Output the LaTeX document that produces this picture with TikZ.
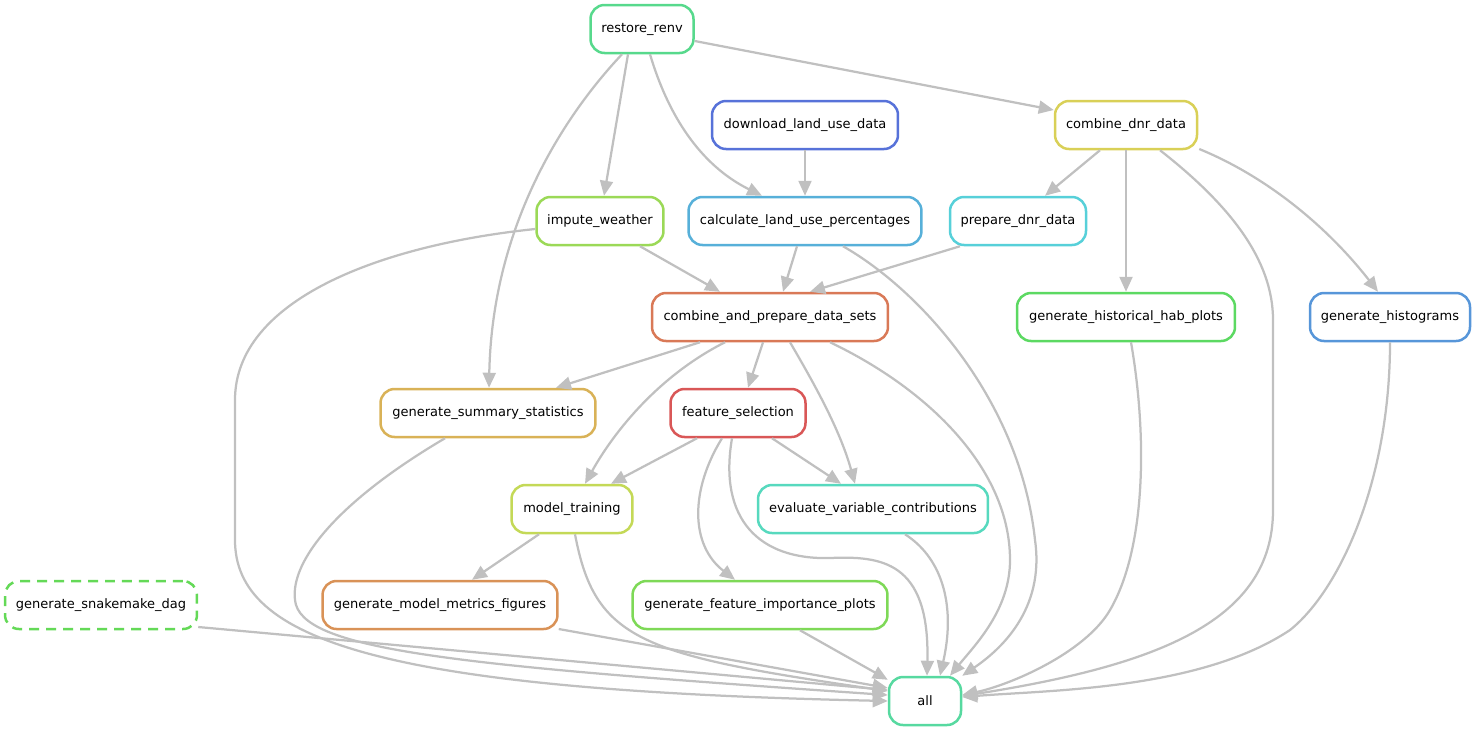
\documentclass[tikz,border=0pt]{standalone}
\usepackage{fontspec}
\setmainfont{DejaVu Sans}
\usetikzlibrary{calc,arrows.meta}
\definecolor{edgegray}{RGB}{192,192,192}
\definecolor{crestore}{RGB}{87,217,140}
\definecolor{cdownload}{RGB}{87,114,217}
\definecolor{ccombdnr}{RGB}{217,208,87}
\definecolor{cimpute}{RGB}{155,217,87}
\definecolor{ccalc}{RGB}{87,176,217}
\definecolor{cprepdnr}{RGB}{87,208,217}
\definecolor{ccombine}{RGB}{217,121,87}
\definecolor{chistorical}{RGB}{92,217,98}
\definecolor{chistograms}{RGB}{87,150,217}
\definecolor{csummary}{RGB}{217,178,87}
\definecolor{cfeature}{RGB}{217,87,87}
\definecolor{ctraining}{RGB}{196,217,87}
\definecolor{cevaluate}{RGB}{87,217,190}
\definecolor{cdag}{RGB}{100,217,87}
\definecolor{cmetrics}{RGB}{217,146,87}
\definecolor{cimportance}{RGB}{126,217,87}
\definecolor{call}{RGB}{87,217,160}
\tikzset{
  rule/.style={draw, rectangle, rounded corners=0.28cm, line width=0.05cm, fill=white,
               minimum height=0.96cm, inner xsep=0pt, font=\fontsize{7.4}{9}\selectfont},
  dep/.style={draw=edgegray, line width=0.045cm, -{Triangle[length=0.3cm,width=0.26cm]}}
}

\begin{document}
\begin{tikzpicture}[x=0.02cm, y=-0.02cm]
  \useasboundingbox (0,0) rectangle (1476,731);

  \node[rule, draw=crestore, minimum width=2.06cm] (restore) at (642,29) {restore\_renv};
  \node[rule, draw=cdownload, minimum width=3.72cm] (download) at (805,125) {download\_land\_use\_data};
  \node[rule, draw=ccombdnr, minimum width=2.84cm] (combdnr) at (1126,125) {combine\_dnr\_data};
  \node[rule, draw=cimpute, minimum width=2.54cm] (impute) at (600,221) {impute\_weather};
  \node[rule, draw=ccalc, minimum width=4.66cm] (calc) at (805,221) {calculate\_land\_use\_percentages};
  \node[rule, draw=cprepdnr, minimum width=2.72cm] (prepdnr) at (1018,221) {prepare\_dnr\_data};
  \node[rule, draw=ccombine, minimum width=4.72cm] (combine) at (770,317) {combine\_and\_prepare\_data\_sets};
  \node[rule, draw=chistorical, minimum width=4.36cm] (historical) at (1126,317) {generate\_historical\_hab\_plots};
  \node[rule, draw=chistograms, minimum width=3.2cm] (histograms) at (1390,317) {generate\_histograms};
  \node[rule, draw=csummary, minimum width=4.3cm] (summary) at (488,413) {generate\_summary\_statistics};
  \node[rule, draw=cfeature, minimum width=2.7cm] (feature) at (738,413) {feature\_selection};
  \node[rule, draw=ctraining, minimum width=2.42cm] (training) at (572,509) {model\_training};
  \node[rule, draw=cevaluate, minimum width=4.6cm] (evaluate) at (873,509) {evaluate\_variable\_contributions};
  \node[rule, draw=cdag, dashed, dash pattern=on 0.2cm off 0.14cm, minimum width=3.84cm] (dag) at (101,605) {generate\_snakemake\_dag};
  \node[rule, draw=cmetrics, minimum width=4.7cm] (metrics) at (440,605) {generate\_model\_metrics\_figures};
  \node[rule, draw=cimportance, minimum width=5.1cm] (importance) at (760,605) {generate\_feature\_importance\_plots};
  \node[rule, draw=call, minimum width=1.44cm] (all) at (925,701) {all};

  \draw[dep] ($(restore.east)+(0,12)$) -- ($(combdnr.west)+(0,-15)$);
  \draw[dep] ($(restore.south)+(-14,0)$) -- ($(impute.north)+(4,0)$);
  \draw[dep] ($(restore.south)+(8,0)$) .. controls (668,115) and (700,165) .. ($(calc.north)+(-43,0)$);
  \draw[dep] ($(restore.south)+(-20,0)$) .. controls (560,120) and (492,230) .. ($(summary.north)+(1,0)$);
  \draw[dep] (download.south) -- (calc.north);
  \draw[dep] ($(combdnr.south)+(-26,0)$) -- ($(prepdnr.north)+(27,0)$);
  \draw[dep] (combdnr.south) -- (historical.north);
  \draw[dep] ($(combdnr.east)+(1,24)$) .. controls (1270,178) and (1330,230) .. ($(histograms.north)+(-12,0)$);
  \draw[dep] ($(combdnr.south)+(34,0)$) .. controls (1230,205) and (1273,260) .. (1273,320) -- (1273,510)
             .. controls (1273,620) and (1160,665) .. ($(all.east)+(0,-5)$);
  \draw[dep] ($(impute.south)+(40,0)$) -- ($(combine.north)+(-50,0)$);
  \draw[dep] ($(impute.west)+(0,8)$) .. controls (380,245) and (235,300) .. (235,400) -- (235,540)
             .. controls (235,640) and (380,690) .. ($(all.west)+(0,0)$);
  \draw[dep] ($(calc.south)+(-8,0)$) -- ($(combine.north)+(13,0)$);
  \draw[dep] ($(calc.south)+(38,0)$) .. controls (920,290) and (1020,400) .. (1035,540)
             .. controls (1045,610) and (1000,650) .. (all.north east);
  \draw[dep] ($(prepdnr.south)+(-58,0)$) -- ($(combine.north)+(40,0)$);
  \draw[dep] ($(combine.south)+(-70,0)$) -- ($(summary.north)+(68,0)$);
  \draw[dep] ($(combine.south)+(-7,0)$) -- ($(feature.north)+(10,0)$);
  \draw[dep] ($(combine.south)+(-45,0)$) .. controls (660,375) and (615,430) .. ($(training.north)+(13,0)$);
  \draw[dep] ($(combine.south)+(20,0)$) .. controls (815,385) and (840,430) .. ($(evaluate.north)+(-18,0)$);
  \draw[dep] ($(combine.south)+(60,0)$) .. controls (930,390) and (1010,470) .. (1010,560)
             .. controls (1010,610) and (975,645) .. ($(all.north)+(25,0)$);
  \draw[dep] ($(historical.south)+(5,0)$) .. controls (1148,440) and (1145,550) .. (1110,610)
             .. controls (1085,653) and (1010,685) .. ($(all.east)+(0,-6)$);
  \draw[dep] (histograms.south) .. controls (1390,480) and (1340,590) .. (1290,630)
             .. controls (1200,690) and (1050,690) .. ($(all.east)+(0,-4)$);
  \draw[dep] ($(summary.south)+(-43,0)$) .. controls (340,500) and (290,560) .. (295,600)
             .. controls (300,650) and (450,665) .. ($(all.west)+(0,-6)$);
  \draw[dep] ($(feature.south)+(-41,0)$) -- ($(training.north)+(39,0)$);
  \draw[dep] ($(feature.south)+(34,0)$) -- ($(evaluate.north)+(-32,0)$);
  \draw[dep] ($(feature.south)+(-16,0)$) .. controls (690,490) and (690,545) .. ($(importance.north)+(-25,0)$);
  \draw[dep] ($(feature.south)+(-6,0)$) .. controls (718,520) and (760,560) .. (830,558)
             .. controls (880,556) and (930,560) .. ($(all.north)+(2,0)$);
  \draw[dep] ($(training.south)+(-33,0)$) -- ($(metrics.north)+(32,0)$);
  \draw[dep] ($(training.south)+(3,0)$) .. controls (595,640) and (640,655) .. ($(all.west)+(0,-10)$);
  \draw[dep] ($(evaluate.south)+(32,0)$) .. controls (945,560) and (955,610) .. ($(all.north)+(15,0)$);
  \draw[dep] ($(dag.east)+(0,22)$) -- ($(all.west)+(0,-11)$);
  \draw[dep] ($(metrics.east)+(0,24)$) -- ($(all.west)+(0,-13)$);
  \draw[dep] ($(importance.south)+(40,0)$) -- ($(all.north west)+(0,4)$);
\end{tikzpicture}
\end{document}
